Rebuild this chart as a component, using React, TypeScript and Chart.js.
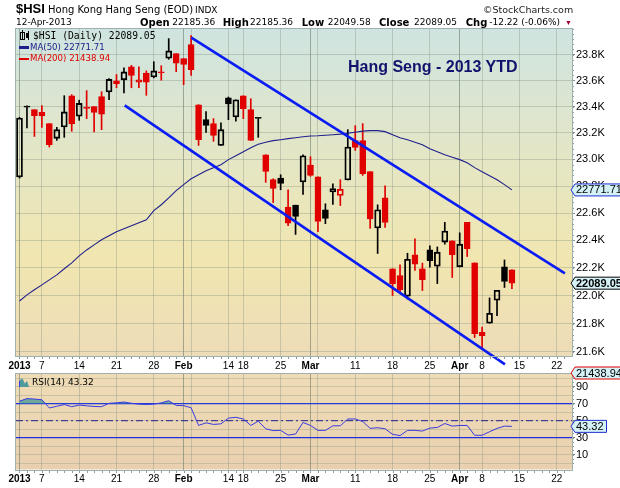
import React, { useEffect, useRef } from "react";
import { Chart, registerables } from "chart.js";

Chart.register(...registerables);

// ---------- data ----------
const tradingDays = [
  "2013-01-02","2013-01-03","2013-01-04","2013-01-07","2013-01-08","2013-01-09","2013-01-10","2013-01-11",
  "2013-01-14","2013-01-15","2013-01-16","2013-01-17","2013-01-18","2013-01-21","2013-01-22","2013-01-23",
  "2013-01-24","2013-01-25","2013-01-28","2013-01-29","2013-01-30","2013-01-31","2013-02-01","2013-02-04",
  "2013-02-05","2013-02-06","2013-02-07","2013-02-08","2013-02-14","2013-02-15","2013-02-18","2013-02-19",
  "2013-02-20","2013-02-21","2013-02-22","2013-02-25","2013-02-26","2013-02-27","2013-02-28","2013-03-01",
  "2013-03-04","2013-03-05","2013-03-06","2013-03-07","2013-03-08","2013-03-11","2013-03-12","2013-03-13",
  "2013-03-14","2013-03-15","2013-03-18","2013-03-19","2013-03-20","2013-03-21","2013-03-22","2013-03-25",
  "2013-03-26","2013-03-27","2013-03-28","2013-04-02","2013-04-03","2013-04-05","2013-04-08","2013-04-09",
  "2013-04-10","2013-04-11","2013-04-12",
  // future sessions shown on the axis
  "2013-04-15","2013-04-16","2013-04-17","2013-04-18","2013-04-19","2013-04-22","2013-04-23","2013-04-24",
];

const opens = [
  22868, 23404, 23376, 23356, 23270, 23158, 23245, 23483, 23326, 23396, 23399, 23476, 23512, 23575, 23605, 23705,
  23587, 23658, 23627, 23667, 23772, 23808, 23769, 23878, 23414, 23300, 23270, 23105, 23466, 23321, 23483, 23376,
  23318, 23035, 22848, 22860, 22644, 22659, 22831, 22958, 22870, 22625, 22756, 22730, 22846, 23141, 23141, 22908,
  22491, 22713, 22193, 22144, 21995, 22294, 22193, 22330, 22212, 22387, 22397, 22207, 22532, 22236, 21738, 21802,
  21966, 22207, 22185.36,
];
const highs = [
  23318, 23405, 23376, 23407, 23270, 23242, 23483, 23491, 23449, 23522, 23399, 23514, 23615, 23646, 23697, 23717,
  23705, 23674, 23745, 23714, 23925, 23808, 23769, 23949, 23414, 23361, 23308, 23276, 23473, 23452, 23483, 23460,
  23318, 23035, 22855, 22885, 22773, 22659, 23035, 23020, 22870, 22669, 22817, 22848, 23224, 23254, 23270, 22908,
  22661, 22802, 22193, 22222, 22306, 22411, 22234, 22360, 22352, 22532, 22397, 22455, 22532, 22236, 21774, 21983,
  22038, 22257, 22185.36,
];
const lows = [
  22860, 23237, 23173, 23242, 23093, 23143, 23166, 23212, 23295, 23308, 23207, 23224, 23452, 23544, 23505, 23544,
  23544, 23486, 23620, 23602, 23764, 23668, 23568, 23640, 23105, 23204, 23136, 23105, 23300, 23288, 23308, 23143,
  23166, 22828, 22678, 22773, 22508, 22443, 22738, 22873, 22463, 22522, 22664, 22656, 22846, 23067, 22880, 22488,
  22304, 22494, 22000, 22026, 21975, 22181, 22036, 22205, 22086, 22372, 22130, 22207, 22282, 21700, 21617, 21802,
  21856, 22058, 22049.58,
];
const closes = [
  23313, 23396, 23331, 23329, 23110, 23224, 23359, 23268, 23424, 23386, 23356, 23341, 23608, 23598, 23666, 23640,
  23605, 23587, 23674, 23659, 23829, 23733, 23725, 23684, 23148, 23257, 23181, 23224, 23421, 23452, 23384, 23143,
  23309, 22910, 22783, 22820, 22525, 22575, 23027, 22880, 22538, 22561, 22782, 22777, 23093, 23090, 22893, 22558,
  22625, 22531, 22086, 22043, 22262, 22227, 22115, 22252, 22314, 22468, 22296, 22372, 22340, 21728, 21714, 21873,
  22038, 22101, 22089.05,
];
const ma50 = [
  21961, 22005, 22041, 22077, 22113, 22149, 22193, 22236, 22287, 22330, 22367, 22404, 22433, 22463, 22485, 22507,
  22529, 22551, 22618, 22662, 22713, 22766, 22811, 22855, 22885, 22915, 22938, 22960, 22998, 23027, 23057, 23088,
  23114, 23129, 23141, 23148, 23156, 23163, 23171, 23176, 23178, 23182, 23186, 23190, 23198, 23205, 23213, 23217,
  23217, 23209, 23186, 23163, 23148, 23129, 23110, 23080, 23057, 23035, 23016, 22998, 22975, 22938, 22908, 22878,
  22848, 22811, 22771.71,
];
const rsi14 = [
  73, 76, 75.5, 74.7, 65, 67, 69, 66.5, 68.4, 67.5, 66.8, 66.5, 70.5, 71, 72, 70.5,
  69.5, 69, 69.5, 71, 73.5, 68, 67.7, 65.3, 44.4, 47.5, 45.6, 46.3, 53, 54, 52, 44.4,
  49.4, 40.5, 38.3, 38.6, 33, 34.3, 47.9, 44.4, 38.6, 38.6, 44, 44, 52, 52, 49, 41,
  41.7, 40.5, 34, 32.4, 38.6, 38.6, 37.8, 41.3, 42, 46.7, 43.6, 44.4, 44.4, 32.8, 32.8, 37,
  40.9, 43.6, 43.32,
];
const ma200Last = 21438.94;

// trend channel drawn on the chart: [session index, price]
const upperChannelX = [23.03, 73.1];
const upperChannelY = [23933, 22160];
const lowerChannelX = [14.1, 65.07];
const lowerChannelY = [23409, 21511];

// axis ticks
const tickIdx = [0, 3, 8, 13, 18, 22, 23, 28, 30, 35, 39, 40, 45, 50, 55, 59, 62, 67, 72];
const tickText = ["2013", "7", "14", "21", "28", "Feb", "", "14", "18", "25", "Mar", "", "11", "18", "25", "Apr", "8", "15", "22"];
const boldTicks = ["2013", "Feb", "Mar", "Apr"];
const priceTicks = [21600, 21800, 22000, 22200, 22400, 22600, 22800, 23000, 23200, 23400, 23600, 23800];
const priceMinorStep = 40;
const rsiGrid = [0, 10, 20, 30, 40, 50, 60, 70, 80, 90, 100];
const rsiLabels = [10, 30, 50, 70, 90];

// ---------- styling ----------
const RED = "#e00000";
const BLACK = "#000000";
const SANS = '"Liberation Sans", Arial, sans-serif';
const VERD = '"DejaVu Sans", Verdana, sans-serif';
const X_MIN = -0.469;
const X_MAX = 74.05;

const bgPlugin = {
  id: "panelBg",
  beforeDraw(chart: any, _a: any, opts: any) {
    const { ctx, chartArea: a } = chart;
    const g = ctx.createLinearGradient(0, a.top, 0, a.bottom);
    opts.stops.forEach((s: [number, string]) => g.addColorStop(s[0], s[1]));
    ctx.save();
    ctx.fillStyle = g;
    ctx.fillRect(a.left, a.top, a.right - a.left, a.bottom - a.top);
    ctx.restore();
  },
  afterDraw(chart: any, _a: any, opts: any) {
    const { ctx, chartArea: a, scales } = chart;
    ctx.save();
    // minor ticks: one per session along the bottom edge, and minor value ticks on the right edge
    ctx.strokeStyle = "#8c9c9c";
    ctx.lineWidth = 1;
    ctx.beginPath();
    for (let i = 0; i < tradingDays.length; i++) {
      const x = Math.round(scales.x.getPixelForValue(i)) + 0.5;
      if (x < a.left || x > a.right) continue;
      ctx.moveTo(x, Math.round(a.bottom) + 1);
      ctx.lineTo(x, Math.round(a.bottom) + 3);
    }
    (opts.minorY || []).forEach((v: number) => {
      const y = Math.round(scales.y.getPixelForValue(v)) + 0.5;
      if (y < a.top || y > a.bottom) return;
      ctx.moveTo(Math.round(a.right) + 1, y);
      ctx.lineTo(Math.round(a.right) + 2, y);
    });
    ctx.stroke();
    ctx.strokeStyle = opts.border;
    ctx.strokeRect(Math.round(a.left) - 0.5, Math.round(a.top) - 0.5, Math.round(a.right - a.left) + 1, Math.round(a.bottom - a.top) + 1);
    ctx.restore();
  },
};

function drawTag(ctx: CanvasRenderingContext2D, x: number, y: number, text: string, border: string, bold: boolean) {
  ctx.save();
  ctx.font = (bold ? "bold " : "") + "11px " + SANS;
  const w = ctx.measureText(text).width + 4;
  const h = 12;
  ctx.beginPath();
  ctx.moveTo(x, y);
  ctx.lineTo(x + 4, y - h / 2);
  ctx.lineTo(x + 4 + w, y - h / 2);
  ctx.lineTo(x + 4 + w, y + h / 2);
  ctx.lineTo(x + 4, y + h / 2);
  ctx.closePath();
  ctx.fillStyle = "#d4f2f6";
  ctx.fill();
  ctx.strokeStyle = border;
  ctx.lineWidth = 1;
  ctx.stroke();
  ctx.fillStyle = "#000";
  ctx.textBaseline = "middle";
  ctx.textAlign = "left";
  ctx.fillText(text, x + 5, y + 0.5);
  ctx.restore();
}

const tagPlugin = {
  id: "valueTags",
  afterDraw(chart: any, _a: any, opts: any) {
    const { ctx, chartArea: a, scales } = chart;
    (opts.tags || []).forEach((t: any) => {
      const y = t.value !== undefined ? scales.y.getPixelForValue(t.value) : a.bottom + t.offset;
      drawTag(ctx, a.right - 1, y, t.text, t.border, !!t.bold);
    });
  },
};

function xAxis() {
  return {
    type: "linear" as const,
    min: X_MIN,
    max: X_MAX,
    offset: false,
    afterBuildTicks: (axis: any) => {
      axis.ticks = tickIdx.map((v) => ({ value: v }));
    },
    afterFit: (axis: any) => {
      axis.height = 16;
      axis.paddingLeft = 0;
      axis.paddingRight = 0;
    },
    border: { display: false },
    grid: {
      offset: false,
      drawTicks: false,
      lineWidth: 1,
      color: (c: any) => {
        const i = tickIdx.indexOf(c.tick ? c.tick.value : -1);
        return i >= 0 && boldTicks.includes(tickText[i]) ? "rgba(100,115,100,0.55)" : "rgba(120,135,120,0.32)";
      },
    },
    ticks: {
      autoSkip: false,
      maxRotation: 0,
      padding: 4,
      color: "#000",
      callback: (_v: any, i: number) => tickText[i],
      font: (c: any) => {
        const i = tickIdx.indexOf(c.tick ? c.tick.value : -1);
        const b = i >= 0 && boldTicks.includes(tickText[i]);
        return { family: SANS, size: 10, weight: b ? "bold" : "normal" };
      },
    },
  };
}

export default function App() {
  const mainRef = useRef<HTMLCanvasElement>(null);
  const rsiRef = useRef<HTMLCanvasElement>(null);

  useEffect(() => {
    document.body.style.margin = "0";
    const n = closes.length;
    const idx = closes.map((_, i) => i);
    const col = idx.map((i) => (i > 0 && closes[i] < closes[i - 1] ? RED : BLACK));
    const fill = idx.map((i) => (closes[i] < opens[i] ? col[i] : "rgba(0,0,0,0)"));
    const minorPrice: number[] = [];
    for (let v = 21560; v <= 24000; v += priceMinorStep) minorPrice.push(v);
    const minorRsi: number[] = [];
    for (let v = 0; v <= 100; v += 5) minorRsi.push(v);

    const main = new Chart(mainRef.current as HTMLCanvasElement, {
      type: "bar",
      data: {
        datasets: [
          {
            type: "line",
            label: "upper",
            data: upperChannelX.map((x, i) => ({ x, y: upperChannelY[i] })),
            borderColor: "#0a1cf4",
            borderWidth: 2.6,
            pointRadius: 0,
            clip: false as any,
            order: 0,
          } as any,
          {
            type: "line",
            label: "lower",
            data: lowerChannelX.map((x, i) => ({ x, y: lowerChannelY[i] })),
            borderColor: "#0a1cf4",
            borderWidth: 2.6,
            pointRadius: 0,
            clip: false as any,
            order: 0,
          } as any,
          {
            type: "line",
            label: "MA(50)",
            data: idx.map((i) => ({ x: i, y: ma50[i] })),
            borderColor: "#20208c",
            borderWidth: 1.1,
            pointRadius: 0,
            tension: 0,
            order: 1,
          } as any,
          {
            label: "upperWick",
            data: idx.map((i) => ({ x: i, y: [Math.max(opens[i], closes[i]), highs[i]] })),
            backgroundColor: col,
            barThickness: 1,
            grouped: false,
            order: 3,
          } as any,
          {
            label: "lowerWick",
            data: idx.map((i) => ({ x: i, y: [lows[i], Math.min(opens[i], closes[i])] })),
            backgroundColor: col,
            barThickness: 1,
            grouped: false,
            order: 3,
          } as any,
          {
            label: "body",
            data: idx.map((i) => ({ x: i, y: [Math.min(opens[i], closes[i]), Math.max(opens[i], closes[i])] })),
            backgroundColor: fill,
            borderColor: col,
            borderWidth: 1.2,
            borderSkipped: false,
            barThickness: 6,
            grouped: false,
            order: 2,
          } as any,
        ],
      },
      options: {
        responsive: false,
        animation: false,
        events: [],
        layout: { padding: { left: 16, top: 29, right: 0, bottom: 8 } },
        plugins: {
          legend: { display: false },
          tooltip: { enabled: false },
          panelBg: {
            stops: [
              [0, "#cfe4e0"],
              [0.35, "#e2e6c8"],
              [0.7, "#f1e6b0"],
              [1, "#eddcb8"],
            ],
            border: "#9fb0b0",
            minorY: minorPrice,
          },
          valueTags: {
            tags: [
              { value: ma50[n - 1], text: ma50[n - 1].toFixed(2), border: "#1f2fd0" },
              { value: closes[n - 1], text: closes[n - 1].toFixed(2), border: "#000", bold: true },
              { offset: 17, text: ma200Last.toFixed(2), border: "#e00000" },
            ],
          },
        } as any,
        scales: {
          x: xAxis() as any,
          y: {
            type: "logarithmic",
            position: "right",
            min: 21570,
            max: 24000,
            afterBuildTicks: (axis: any) => {
              axis.ticks = priceTicks.map((v) => ({ value: v }));
            },
            afterFit: (axis: any) => {
              axis.width = 48;
              axis.paddingTop = 0;
              axis.paddingBottom = 0;
            },
            border: { display: false },
            grid: { color: "rgba(120,135,120,0.32)", tickLength: 3, tickColor: "#7a8a8a" },
            ticks: {
              autoSkip: false,
              padding: 1,
              color: "#000",
              font: { family: SANS, size: 11 },
              callback: (v: any) => (Number(v) / 1000).toFixed(1) + "K",
            },
          } as any,
        },
      },
      plugins: [bgPlugin, tagPlugin],
    });

    const rsi = new Chart(rsiRef.current as HTMLCanvasElement, {
      type: "line",
      data: {
        datasets: [
          {
            label: "RSI(14)",
            data: idx.map((i) => ({ x: i, y: rsi14[i] })),
            borderColor: "#3a3ae0",
            borderWidth: 1,
            pointRadius: 0,
            tension: 0,
            fill: { target: { value: 70 }, above: "rgba(70,150,150,0.75)", below: "rgba(0,0,0,0)" },
          } as any,
          {
            label: "70",
            data: [{ x: X_MIN, y: 70 }, { x: X_MAX, y: 70 }],
            borderColor: "#1f2fe0",
            borderWidth: 1.2,
            pointRadius: 0,
          },
          {
            label: "30",
            data: [{ x: X_MIN, y: 30 }, { x: X_MAX, y: 30 }],
            borderColor: "#1f2fe0",
            borderWidth: 1.2,
            pointRadius: 0,
          },
          {
            label: "50",
            data: [{ x: X_MIN, y: 50 }, { x: X_MAX, y: 50 }],
            borderColor: "#20208c",
            borderWidth: 1,
            borderDash: [7, 3, 2, 3],
            pointRadius: 0,
          },
        ],
      },
      options: {
        responsive: false,
        animation: false,
        events: [],
        layout: { padding: { left: 16, top: 5.5, right: 0, bottom: 2.5 } },
        plugins: {
          legend: { display: false },
          tooltip: { enabled: false },
          panelBg: {
            stops: [
              [0, "#efdcb6"],
              [1, "#e9d0b0"],
            ],
            border: "#9fb0b0",
            minorY: minorRsi,
          },
          valueTags: {
            tags: [{ value: rsi14[n - 1], text: rsi14[n - 1].toFixed(2), border: "#1f2fd0" }],
          },
        } as any,
        scales: {
          x: xAxis() as any,
          y: {
            type: "linear",
            position: "right",
            min: -7.5,
            max: 105.6,
            afterBuildTicks: (axis: any) => {
              axis.ticks = rsiGrid.map((v) => ({ value: v }));
            },
            afterFit: (axis: any) => {
              axis.width = 48;
              axis.paddingTop = 0;
              axis.paddingBottom = 0;
            },
            border: { display: false },
            grid: {
              color: "rgba(120,135,120,0.28)",
              tickLength: 3,
              tickColor: (c: any) => (rsiLabels.includes(c.tick ? c.tick.value : -1) ? "#7a8a8a" : "rgba(0,0,0,0)"),
            },
            ticks: {
              autoSkip: false,
              padding: 1,
              color: "#000",
              font: { family: SANS, size: 11 },
              callback: (v: any) => (rsiLabels.includes(Number(v)) ? String(v) : ""),
            },
          } as any,
        },
      },
      plugins: [bgPlugin, tagPlugin],
    });

    return () => {
      main.destroy();
      rsi.destroy();
    };
  }, []);

  const abs = (l: number, t: number, extra: React.CSSProperties = {}): React.CSSProperties => ({
    position: "absolute",
    left: l,
    top: t,
    whiteSpace: "nowrap",
    lineHeight: 1,
    ...extra,
  });
  const v9: React.CSSProperties = { fontFamily: VERD, fontSize: 9, color: "#000" };
  const b10: React.CSSProperties = { fontFamily: VERD, fontSize: 10, fontWeight: "bold", color: "#000" };

  return (
    <div style={{ position: "relative", width: 620, height: 488, background: "#fff", overflow: "hidden" }}>
      <canvas ref={rsiRef} width={620} height={120} style={{ position: "absolute", left: 0, top: 368 }} />
      <canvas ref={mainRef} width={620} height={380} style={{ position: "absolute", left: 0, top: 0 }} />

      {/* header */}
      <div style={abs(16, 2.3, { fontFamily: SANS, fontSize: 13, fontWeight: "bold" })}>$HSI</div>
      <div style={abs(48, 4.8, { fontFamily: VERD, fontSize: 10 })}>Hong Kong Hang Seng (EOD)</div>
      <div style={abs(195, 5.7, { fontFamily: VERD, fontSize: 9 })}>INDX</div>
      <div style={abs(483, 5.3, { fontFamily: VERD, fontSize: 9.5, color: "#222" })}>©StockCharts.com</div>

      <div style={abs(16, 18.4, v9)}>12-Apr-2013</div>
      <div style={abs(140, 17.5, b10)}>Open</div>
      <div style={abs(172.3, 18.4, v9)}>22185.36</div>
      <div style={abs(222.7, 17.5, b10)}>High</div>
      <div style={abs(250, 18.4, v9)}>22185.36</div>
      <div style={abs(301.7, 17.5, b10)}>Low</div>
      <div style={abs(327.7, 18.4, v9)}>22049.58</div>
      <div style={abs(379, 17.5, b10)}>Close</div>
      <div style={abs(414, 18.4, v9)}>22089.05</div>
      <div style={abs(465.7, 17.5, b10)}>Chg</div>
      <div style={abs(489.3, 18.4, v9)}>-12.22 (-0.06%)</div>
      <div style={abs(565, 19.5, { fontSize: 7, color: "#a00030" })}>▼</div>

      {/* legend of the price panel */}
      <div style={abs(20, 32, { width: 3, height: 6, border: "1px solid #000", background: "transparent" })} />
      <div style={abs(21.5, 30, { width: 1, height: 10, background: "#000" })} />
      <div style={abs(26, 33, { width: 3, height: 5, background: "#000" })} />
      <div style={abs(27.5, 31, { width: 1, height: 9, background: "#000" })} />
      <div style={abs(33, 30.5, { fontFamily: '"DejaVu Sans Mono", monospace', fontSize: 9.7 })}>$HSI (Daily) 22089.05</div>
      <div style={abs(19, 46, { width: 10, height: 2.5, background: "#20208c" })} />
      <div style={abs(30, 42.7, { fontFamily: VERD, fontSize: 8.6, color: "#20208c" })}>MA(50) 22771.71</div>
      <div style={abs(19, 57.5, { width: 10, height: 2.5, background: "#e00000" })} />
      <div style={abs(30, 54.2, { fontFamily: VERD, fontSize: 8.6, color: "#e00000" })}>MA(200) 21438.94</div>

      <div style={abs(348, 58.5, { fontFamily: SANS, fontSize: 16, fontWeight: "bold", color: "#12126e" })}>
        Hang Seng - 2013 YTD
      </div>

      {/* legend of the RSI panel */}
      <div
        style={abs(19, 378, {
          width: 9,
          height: 9,
          background: "#4f9a9a",
          borderLeft: "1px solid #3a3ae0",
          clipPath: "polygon(0 100%, 0 40%, 30% 0, 60% 60%, 80% 30%, 100% 100%)",
        })}
      />
      <div style={abs(32, 378, { fontFamily: VERD, fontSize: 9, color: "#000" })}>RSI(14) 43.32</div>
    </div>
  );
}
